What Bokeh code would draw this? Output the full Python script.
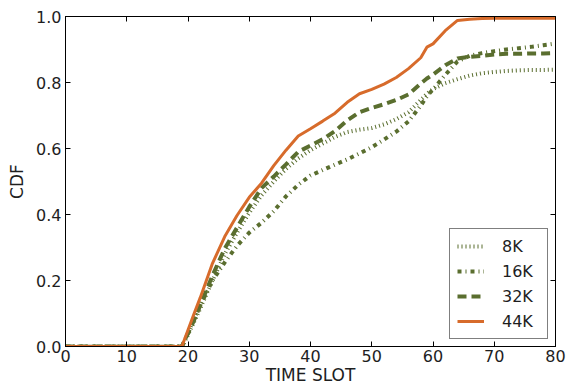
from bokeh.plotting import figure
from bokeh.models import (LinearAxis, Legend, LegendItem, FixedTicker, Range1d,
                          CustomJSTickFormatter)
from bokeh.embed import file_html
from bokeh.resources import INLINE

t = [0, 19, 20, 21, 22, 24, 26, 28, 30, 32, 34, 36, 38, 40, 42, 44, 46, 48, 50, 52, 54, 56, 58, 59, 60, 62, 64, 66, 68, 70, 72, 74, 76, 78, 80]
cdf_8k = [0, 0, 0.035, 0.075, 0.115, 0.2, 0.28, 0.345, 0.405, 0.458, 0.5, 0.538, 0.57, 0.595, 0.615, 0.635, 0.65, 0.657, 0.662, 0.673, 0.689, 0.71, 0.747, 0.766, 0.78, 0.798, 0.81, 0.821, 0.828, 0.832, 0.835, 0.837, 0.838, 0.838, 0.839]
cdf_16k = [0, 0, 0.04, 0.085, 0.125, 0.2, 0.255, 0.305, 0.345, 0.375, 0.41, 0.455, 0.49, 0.518, 0.535, 0.551, 0.567, 0.585, 0.604, 0.627, 0.651, 0.682, 0.73, 0.758, 0.779, 0.823, 0.864, 0.881, 0.889, 0.895, 0.90, 0.904, 0.908, 0.913, 0.918]
cdf_32k = [0, 0, 0.04, 0.08, 0.125, 0.215, 0.297, 0.36, 0.423, 0.48, 0.515, 0.552, 0.59, 0.609, 0.628, 0.653, 0.685, 0.71, 0.723, 0.734, 0.747, 0.764, 0.797, 0.812, 0.824, 0.852, 0.873, 0.878, 0.881, 0.885, 0.887, 0.887, 0.888, 0.888, 0.889]
cdf_44k = [0, 0, 0.05, 0.10, 0.148, 0.252, 0.333, 0.397, 0.452, 0.495, 0.548, 0.595, 0.638, 0.66, 0.683, 0.707, 0.74, 0.766, 0.779, 0.795, 0.815, 0.842, 0.875, 0.907, 0.917, 0.957, 0.988, 0.992, 0.994, 0.995, 0.995, 0.995, 0.995, 0.995, 0.995]

labels = ["8K", "16K", "32K", "44K"]
x_ticks = [0, 10, 20, 30, 40, 50, 60, 70, 80]
y_ticks = [0.0, 0.2, 0.4, 0.6, 0.8, 1.0]

GREEN = "#5a6e2f"
ORANGE = "#d76b2b"
TEXT = "#1e1e1e"
FONT = "DejaVu Sans"

p = figure(width=579, height=387, output_backend="svg", toolbar_location=None,
           x_range=Range1d(0, 80), y_range=Range1d(0, 1.0),
           min_border_left=65, min_border_right=24, min_border_top=16, min_border_bottom=41)
p.xgrid.visible = False
p.ygrid.visible = False
p.outline_line_color = "black"
p.outline_line_width = 1

r8 = p.line(t, cdf_8k, line_color=GREEN, line_width=4, line_dash="1 3")
r16 = p.line(t, cdf_16k, line_color=GREEN, line_width=4, line_dash="4 4 1 4")
r32 = p.line(t, cdf_32k, line_color=GREEN, line_width=4, line_dash="9 5")
r44 = p.line(t, cdf_44k, line_color=ORANGE, line_width=3)

for ax in (p.xaxis[0], p.yaxis[0]):
    ax.major_tick_in = 5
    ax.major_tick_out = 0
    ax.minor_tick_in = 0
    ax.minor_tick_out = 0
    ax.axis_line_color = "black"
    ax.major_label_text_font = FONT
    ax.major_label_text_font_size = "16px"
    ax.major_label_text_color = TEXT
    ax.axis_label_text_font = FONT
    ax.axis_label_text_font_size = "17px"
    ax.axis_label_text_font_style = "normal"
    ax.axis_label_text_color = TEXT

p.xaxis[0].ticker = FixedTicker(ticks=x_ticks)
p.yaxis[0].ticker = FixedTicker(ticks=y_ticks)
p.yaxis[0].formatter = CustomJSTickFormatter(code="return tick.toFixed(1);")
p.xaxis[0].axis_label = "TIME SLOT"
p.yaxis[0].axis_label = "CDF"
p.xaxis[0].major_label_standoff = 3
p.xaxis[0].axis_label_standoff = 0
p.yaxis[0].major_label_standoff = 4
p.yaxis[0].axis_label_standoff = 6

blank = "return '';"
top = LinearAxis(ticker=FixedTicker(ticks=x_ticks), formatter=CustomJSTickFormatter(code=blank),
                 major_tick_in=5, major_tick_out=0, minor_tick_in=0, minor_tick_out=0,
                 major_label_standoff=0, axis_line_color="black")
right = LinearAxis(ticker=FixedTicker(ticks=y_ticks), formatter=CustomJSTickFormatter(code=blank),
                   major_tick_in=5, major_tick_out=0, minor_tick_in=0, minor_tick_out=0,
                   major_label_standoff=0, axis_line_color="black")
p.add_layout(top, "above")
p.add_layout(right, "right")

legend = Legend(items=[LegendItem(label=labels[0], renderers=[r8]),
                       LegendItem(label=labels[1], renderers=[r16]),
                       LegendItem(label=labels[2], renderers=[r32]),
                       LegendItem(label=labels[3], renderers=[r44])],
                location=(384, 7))
legend.border_line_color = "black"
legend.border_line_width = 1
legend.label_text_font = FONT
legend.label_text_font_size = "16px"
legend.label_text_color = TEXT
legend.glyph_width = 27
legend.glyph_height = 20
legend.label_height = 20
legend.label_width = 38
legend.label_standoff = 18
legend.spacing = 5
legend.padding = 7
legend.margin = 0
legend.background_fill_alpha = 1
p.add_layout(legend, "center")

open("out.html", "w").write(file_html(p, INLINE))
